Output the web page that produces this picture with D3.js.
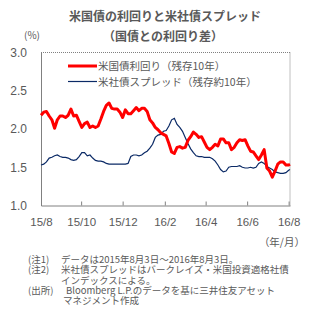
<!DOCTYPE html>
<html><head><meta charset="utf-8">
<script src="https://cdn.jsdelivr.net/npm/d3@7"></script>
<style>
html,body{margin:0;padding:0;background:#fff;}
text{font-family:"Noto Sans CJK JP","Noto Sans",sans-serif;fill:#595959;}
</style></head>
<body><svg id="c" width="326" height="331"></svg>
<script>
const dates = ["2015-08-03","2015-08-07","2015-08-11","2015-08-15","2015-08-19","2015-08-23","2015-08-27","2015-08-31",
"2015-09-04","2015-09-08","2015-09-12","2015-09-16","2015-09-20","2015-09-24","2015-09-28","2015-10-02","2015-10-06",
"2015-10-10","2015-10-14","2015-10-18","2015-10-22","2015-10-26","2015-10-30","2015-11-03","2015-11-07","2015-11-11",
"2015-11-15","2015-11-19","2015-11-23","2015-11-27","2015-12-01","2015-12-05","2015-12-09","2015-12-13","2015-12-17",
"2015-12-21","2015-12-25","2015-12-29","2016-01-02","2016-01-06","2016-01-10","2016-01-14","2016-01-18","2016-01-22",
"2016-01-26","2016-01-30","2016-02-03","2016-02-07","2016-02-11","2016-02-15","2016-02-19","2016-02-23","2016-02-27",
"2016-03-02","2016-03-06","2016-03-10","2016-03-14","2016-03-18","2016-03-22","2016-03-26","2016-03-30","2016-04-03",
"2016-04-07","2016-04-11","2016-04-15","2016-04-19","2016-04-23","2016-04-27","2016-05-01","2016-05-05","2016-05-09",
"2016-05-13","2016-05-17","2016-05-21","2016-05-25","2016-05-29","2016-06-02","2016-06-06","2016-06-10","2016-06-14",
"2016-06-18","2016-06-22","2016-06-26","2016-06-30","2016-07-04","2016-07-08","2016-07-12","2016-07-16","2016-07-20",
"2016-07-24","2016-07-28","2016-08-01","2016-08-03"];
const treasuryYield = [2.18,2.22,2.23,2.17,2.12,2.01,2.12,2.17,2.17,2.15,2.18,2.26,2.17,2.18,2.10,2.02,2.07,2.09,2.02,2.04,
2.02,2.04,2.13,2.23,2.31,2.34,2.27,2.26,2.26,2.22,2.15,2.25,2.20,2.20,2.24,2.28,2.24,2.27,2.27,2.23,2.12,2.08,2.02,1.99,
1.95,1.93,1.91,1.81,1.70,1.68,1.76,1.77,1.75,1.76,1.85,1.90,1.96,1.93,1.89,1.90,1.83,1.76,1.73,1.76,1.80,1.78,1.87,1.87,
1.82,1.82,1.73,1.76,1.82,1.86,1.85,1.86,1.78,1.71,1.70,1.65,1.60,1.66,1.73,1.49,1.45,1.37,1.45,1.54,1.57,1.57,1.53,1.53,1.54];
const corpSpread = [1.53,1.54,1.57,1.62,1.63,1.65,1.66,1.64,1.63,1.63,1.62,1.60,1.59,1.60,1.64,1.69,1.69,1.65,1.66,1.62,
1.59,1.58,1.58,1.57,1.55,1.54,1.54,1.54,1.54,1.54,1.54,1.54,1.55,1.64,1.66,1.66,1.65,1.66,1.69,1.71,1.75,1.80,1.89,1.92,
1.93,1.97,1.98,2.04,2.12,2.14,2.06,2.02,1.97,1.89,1.81,1.74,1.69,1.65,1.64,1.64,1.63,1.63,1.63,1.61,1.58,1.53,1.47,1.44,
1.45,1.50,1.51,1.51,1.51,1.52,1.50,1.49,1.49,1.50,1.49,1.50,1.55,1.57,1.55,1.51,1.49,1.47,1.44,1.43,1.42,1.42,1.43,1.46,1.47];
const seriesNames = ["米国債利回り（残存10年）","米社債スプレッド（残存約10年）"];
const seriesColors = ["#ff0000","#0b2a66"];
const yTicks = [1.0,1.5,2.0,2.5,3.0];
const xTickDates = ["2015-08-03","2015-10-01","2015-12-01","2016-02-01","2016-04-01","2016-06-01","2016-08-01"];
const xTickLabels = ["15/8","15/10","15/12","16/2","16/4","16/6","16/8"];
const titleLines = ["米国債の利回りと米社債スプレッド","（国債との利回り差）"];
const notes = [
 ["(注1)","データは2015年8月3日～2016年8月3日。"],
 ["(注2)","米社債スプレッドはバークレイズ・米国投資適格社債"],
 ["","インデックスによる。"],
 ["(出所)","Bloomberg L.P.のデータを基に三井住友アセット"],
 ["","マネジメント作成"]
];

const parse = d3.timeParse("%Y-%m-%d");
const svg = d3.select("#c");
const L=41, R=290, T=52.5, B=205.5;
const x = d3.scaleTime().domain([parse(dates[0]), parse(dates[dates.length-1])]).range([L,R]);
const y = d3.scaleLinear().domain([1.0,3.0]).range([B,T]);

// titles
svg.append("text").attr("x",165).attr("y",21).attr("text-anchor","middle")
  .style("font-size","12px").style("font-weight","bold").text(titleLines[0]);
svg.append("text").attr("x",163).attr("y",41).attr("text-anchor","middle")
  .style("font-size","12px").style("font-weight","bold").text(titleLines[1]);
svg.append("text").attr("x",24).attr("y",39).style("font-size","10px").text("(%)");

// frame
svg.append("line").attr("x1",L).attr("x2",R).attr("y1",T).attr("y2",T)
  .attr("stroke","#808080").attr("stroke-dasharray","1,1");
svg.append("line").attr("x1",R).attr("x2",R).attr("y1",T).attr("y2",B)
  .attr("stroke","#808080").attr("stroke-dasharray","1,1");

// y axis
const yAx = svg.append("g").attr("transform",`translate(${L},0)`)
  .call(d3.axisLeft(y).tickValues(yTicks).tickFormat(d3.format(".1f")).tickSize(0).tickPadding(14));
yAx.select(".domain").attr("stroke","#808080");
yAx.selectAll("text").style("font-size","12px").style("font-family","'Liberation Sans',sans-serif").attr("fill","#595959");

// x axis
const xAx = svg.append("g").attr("transform",`translate(0,${B})`)
  .call(d3.axisBottom(x).tickValues(xTickDates.map(parse)).tickFormat((d,i)=>xTickLabels[i]).tickSizeInner(-4).tickSizeOuter(0).tickPadding(12));
xAx.select(".domain").attr("stroke","#808080");
xAx.selectAll(".tick line").attr("stroke","#808080");
xAx.selectAll("text").style("font-size","11.5px").style("font-family","'Liberation Sans',sans-serif").attr("fill","#595959");

svg.append("text").attr("x",305).attr("y",246).attr("text-anchor","end").style("font-size","10.5px").text("（年/月）");

// lines
const line = vals => d3.line().x((d,i)=>x(parse(dates[i]))).y(d=>y(d))(vals);
svg.append("path").attr("d",line(corpSpread)).attr("fill","none").attr("stroke",seriesColors[1]).attr("stroke-width",1.2);
svg.append("path").attr("d",line(treasuryYield)).attr("fill","none").attr("stroke",seriesColors[0]).attr("stroke-width",3).attr("stroke-linejoin","round");

// legend
const lg = svg.append("g");
[0,1].forEach(i=>{
  const ly = 66 + i*15.5;
  lg.append("line").attr("x1",68).attr("x2",97).attr("y1",ly).attr("y2",ly)
    .attr("stroke",seriesColors[i]).attr("stroke-width", i===0?3:1.2);
  lg.append("text").attr("x",98).attr("y",ly+4).style("font-size","10.5px").text(seriesNames[i]);
});

// notes (one text block with tspans)
const nt = svg.append("text").style("font-size","9.5px");
notes.forEach((n,i)=>{
  const ny = 263 + i*10.3;
  if(n[0]) nt.append("tspan").attr("x",28).attr("y",ny).text(n[0]);
  const nx = i===3 ? 66 : (i===4 ? 63 : 61);
  nt.append("tspan").attr("x",nx).attr("y",ny).text(n[1]);
});
</script></body></html>
